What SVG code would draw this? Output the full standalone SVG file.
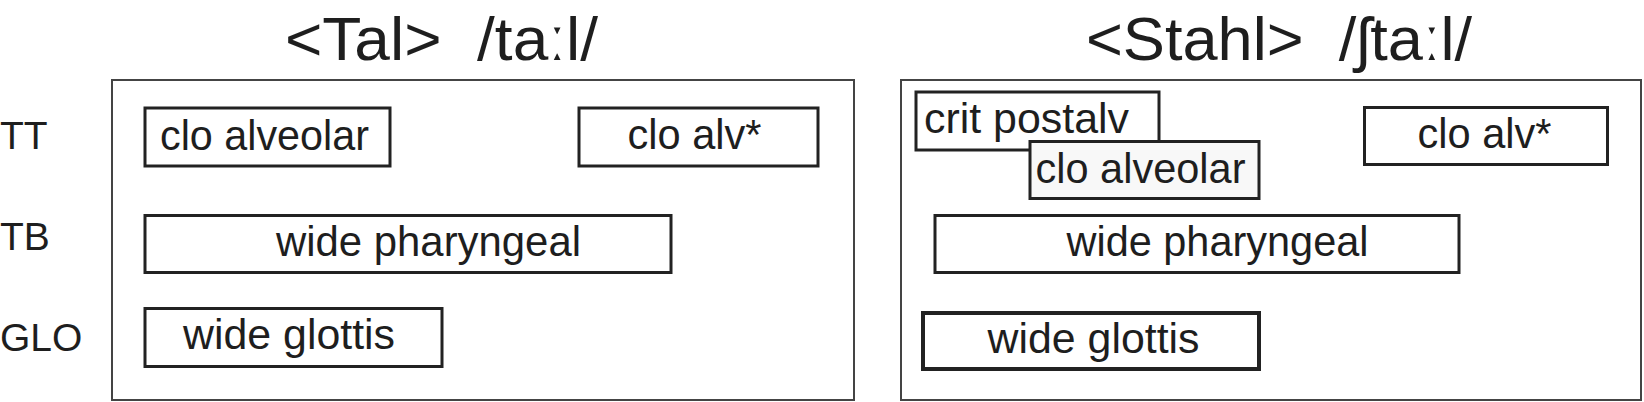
<svg xmlns="http://www.w3.org/2000/svg" width="1644" height="402" viewBox="0 0 1644 402">
<style>
text{font-family:"Liberation Sans",Arial,Helvetica,sans-serif;fill:#1e1e1e}
.title{font-size:61px}
.row{font-size:39px}
.lab{font-size:42px}
.panel{fill:#fff;stroke:#444;stroke-width:2}
.box{fill:#fff;stroke:#222;stroke-width:3}
.thick{stroke-width:4}
.over{fill:#f8f8f8}
</style>
<rect width="1644" height="402" fill="#fff"/>
<g id="titles">
<text class="title" x="285" y="60" xml:space="preserve" textLength="313" lengthAdjust="spacingAndGlyphs">&lt;Tal&gt;  /taːl/</text>
<text class="title" x="1086" y="60" xml:space="preserve" textLength="386" lengthAdjust="spacingAndGlyphs">&lt;Stahl&gt;  /ʃtaːl/</text>
</g>
<g id="row-labels">
<text class="row" x="0" y="149">TT</text>
<text class="row" x="0" y="250">TB</text>
<text class="row" x="0" y="351">GLO</text>
</g>
<g id="panel-tal">
<rect class="panel" x="112" y="80" width="742" height="320"/>
</g>
<g id="tal-tt-clo-alveolar">
<rect class="box" x="145" y="108" width="245" height="58"/>
<text class="lab" x="160" y="149.5" textLength="209" lengthAdjust="spacingAndGlyphs">clo alveolar</text>
</g>
<g id="tal-tt-clo-alv-star">
<rect class="box" x="579" y="108" width="239" height="58"/>
<text class="lab" x="627.5" y="148.5" textLength="134" lengthAdjust="spacingAndGlyphs">clo alv*</text>
</g>
<g id="tal-tb-wide-pharyngeal">
<rect class="box" x="145" y="215.5" width="526" height="57"/>
<text class="lab" x="276" y="255.5" textLength="305" lengthAdjust="spacingAndGlyphs">wide pharyngeal</text>
</g>
<g id="tal-glo-wide-glottis">
<rect class="box" x="145" y="308.5" width="297" height="58"/>
<text class="lab" x="183" y="349" textLength="212" lengthAdjust="spacingAndGlyphs">wide glottis</text>
</g>
<g id="panel-stahl">
<rect class="panel" x="901" y="80" width="740" height="320"/>
</g>
<g id="stahl-tt-crit-postalv">
<rect class="box" x="916" y="92" width="243" height="58"/>
<text class="lab" x="924" y="132.5" textLength="205" lengthAdjust="spacingAndGlyphs">crit postalv</text>
</g>
<g id="stahl-tt-clo-alveolar">
<rect class="box over" x="1030" y="141.5" width="229" height="57"/>
<text class="lab" x="1035.5" y="182.5" textLength="210" lengthAdjust="spacingAndGlyphs">clo alveolar</text>
</g>
<g id="stahl-tt-clo-alv-star">
<rect class="box" x="1364.5" y="107.5" width="243" height="57"/>
<text class="lab" x="1417.5" y="148" textLength="134" lengthAdjust="spacingAndGlyphs">clo alv*</text>
</g>
<g id="stahl-tb-wide-pharyngeal">
<rect class="box" x="935" y="215.5" width="524" height="57"/>
<text class="lab" x="1066.5" y="255.5" textLength="302" lengthAdjust="spacingAndGlyphs">wide pharyngeal</text>
</g>
<g id="stahl-glo-wide-glottis">
<rect class="box thick" x="923" y="313" width="336" height="56"/>
<text class="lab" x="987.5" y="352.5" textLength="212" lengthAdjust="spacingAndGlyphs">wide glottis</text>
</g>
<g id="connectors"/>
</svg>
